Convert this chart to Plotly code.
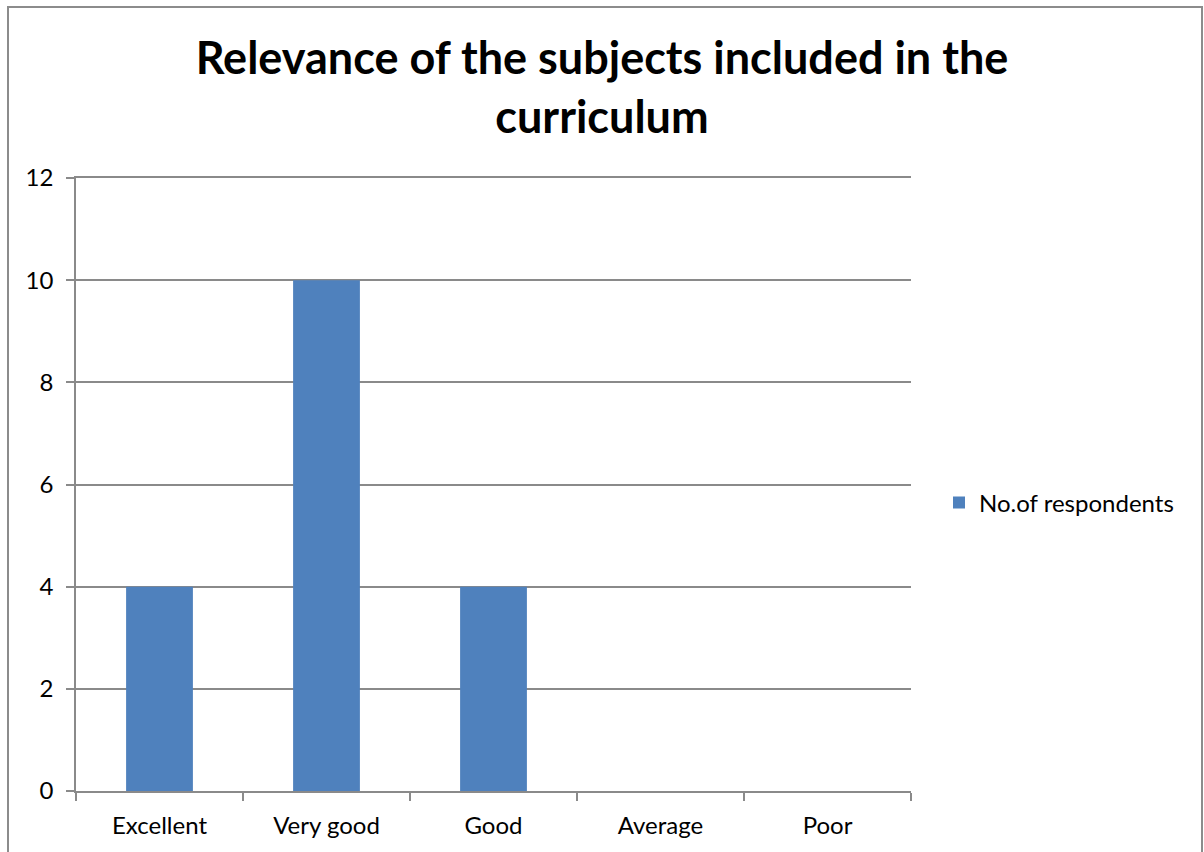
import plotly.graph_objects as go

categories = ["Excellent", "Very good", "Good", "Average", "Poor"]
respondents = [4, 10, 4, 0, 0]
series_name = "No.of respondents"
title_text = "Relevance of the subjects included in the<br>curriculum"

W, H = 1204, 852
L, R, T, B = 76, 1204 - 911, 178, 852 - 791
pw, ph = W - L - R, H - T - B

def px_x(x):
    return (x - L) / pw

def px_y(y):
    return (H - B - y) / ph

fig = go.Figure()
fig.add_trace(go.Bar(
    x=categories, y=respondents, name=series_name,
    marker=dict(color="#4F81BD", line=dict(width=0)),
    showlegend=True,
))

grid = "#8a8a8a"
fig.update_layout(
    width=W, height=H,
    margin=dict(l=L, r=R, t=T, b=B, pad=0),
    paper_bgcolor="white", plot_bgcolor="white",
    bargap=0.6,
    font=dict(family="Lato", size=24, color="#000000"),
    title=dict(text=title_text, x=0.5, xanchor="center", y=1 - 74 / H, yanchor="middle",
               font=dict(family="Lato", size=45, color="#000000", weight="bold")),
    xaxis=dict(showline=True, linecolor=grid, linewidth=1.5, mirror=True, ticks="outside",
               tickson="boundaries", ticklen=8, tickcolor=grid, tickwidth=1.5,
               showgrid=False, tickfont=dict(size=24), fixedrange=True,
               ticklabelstandoff=12),
    yaxis=dict(range=[0, 12], dtick=2, showline=True, linecolor=grid, linewidth=1.5,
               ticks="outside", ticklen=8, tickcolor=grid, tickwidth=1.5,
               showgrid=True, gridcolor=grid, gridwidth=1.5, zeroline=False,
               tickfont=dict(size=24), ticklabelstandoff=8),
    legend=dict(x=px_x(939), y=px_y(503), xanchor="left", yanchor="middle",
                font=dict(size=24), itemwidth=30, bgcolor="rgba(0,0,0,0)"),
    showlegend=True,
)

# outer chart frame (left, top, right edges)
x0, x1 = px_x(8), px_x(1202)
y_top, y_bot = px_y(7), px_y(H + 10)
fig.add_shape(type="path", xref="paper", yref="paper",
              path=f"M {x0} {y_bot} L {x0} {y_top} L {x1} {y_top} L {x1} {y_bot}",
              line=dict(color="#8c8c8c", width=2), layer="above")

fig.write_html("out.html",
               config={"displayModeBar": False},
               post_script="document.body.style.margin='0';document.body.style.overflow='hidden';")
